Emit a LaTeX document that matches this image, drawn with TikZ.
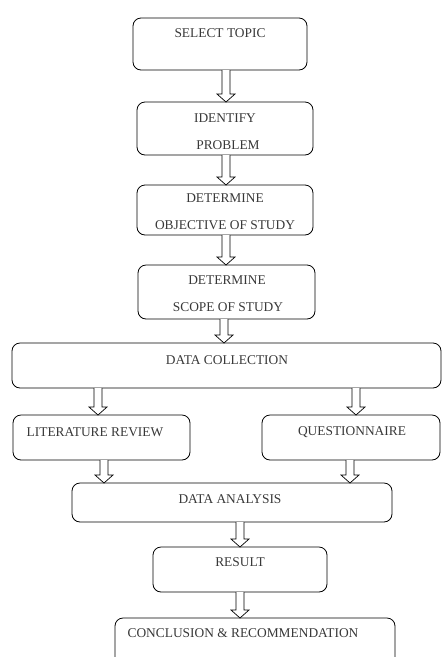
\documentclass[tikz,border=0pt]{standalone}
\usepackage{fontspec}
\setmainfont{Liberation Serif}
\usetikzlibrary{calc}
\tikzset{
  box/.style={draw=black, line width=0.8pt, rounded corners=8pt, inner sep=0pt, outer sep=0pt, anchor=north west},
  txt/.style={inner sep=0pt, text=black!78, font=\fontsize{13.4}{16}\selectfont},
  arr/.style={draw=black, line width=0.7pt, fill=white, line join=miter}
}
\newcommand\barrow[3]{\draw[arr] let \p1=(#2.south), \p2=(#3.north) in
  ({#1pt-4pt},\y1) -- ({#1pt-4pt},{\y2+8pt}) -- ({#1pt-9pt},{\y2+8pt}) -- ({#1pt},\y2)
  -- ({#1pt+9pt},{\y2+8pt}) -- ({#1pt+4pt},{\y2+8pt}) -- ({#1pt+4pt},\y1);}
\begin{document}
\begin{tikzpicture}[x=1pt,y=-1pt]
\useasboundingbox (0,0) rectangle (443,657);
\clip (0,0) rectangle (443,657);
% boxes
\node[box, minimum width=174pt, minimum height=52pt] (st) at (133,18) {};
\node[box, minimum width=176pt, minimum height=53pt] (ip) at (137,102) {};
\node[box, minimum width=176pt, minimum height=50pt] (ob) at (137,185) {};
\node[box, minimum width=177pt, minimum height=54pt] (sc) at (138,265) {};
\node[box, minimum width=429pt, minimum height=45pt] (dc) at (12,343) {};
\node[box, minimum width=177pt, minimum height=45pt] (lr) at (13,415) {};
\node[box, minimum width=178pt, minimum height=45pt] (qu) at (262,415) {};
\node[box, minimum width=320pt, minimum height=39pt] (da) at (72,483) {};
\node[box, minimum width=174pt, minimum height=45pt] (re) at (153,547) {};
\node[box, minimum width=280pt, minimum height=70pt] (cr) at (115,618) {};
% texts
\node[txt] (t1) at (220,33) {SELECT TOPIC};
\node[txt] (t2a) at (225,118) {IDENTIFY};
\node[txt] (t2b) at (228,145) {PROBLEM};
\node[txt] (t3a) at (225,198) {DETERMINE};
\node[txt] (t3b) at (225,225) {OBJECTIVE OF STUDY};
\node[txt] (t4a) at (227,280) {DETERMINE};
\node[txt] (t4b) at (228,307) {SCOPE OF STUDY};
\node[txt] (t5) at (227,360) {DATA COLLECTION};
\node[txt] (t6) at (95,432) {LITERATURE REVIEW};
\node[txt] (t7) at (352,432) {QUESTIONNAIRE};
\node[txt] (t8) at (230,499) {DATA ANALYSIS};
\node[txt] (t9) at (240,562) {RESULT};
\node[txt] (t10) at (243,633) {CONCLUSION \& RECOMMENDATION};
% arrows
\barrow{226}{st}{ip}
\barrow{226}{ip}{ob}
\barrow{226}{ob}{sc}
\barrow{224}{sc}{dc}
\barrow{98}{dc}{lr}
\barrow{356}{dc}{qu}
\barrow{104}{lr}{da}
\barrow{350}{qu}{da}
\barrow{240}{da}{re}
\barrow{240}{re}{cr}
\end{tikzpicture}
\end{document}
